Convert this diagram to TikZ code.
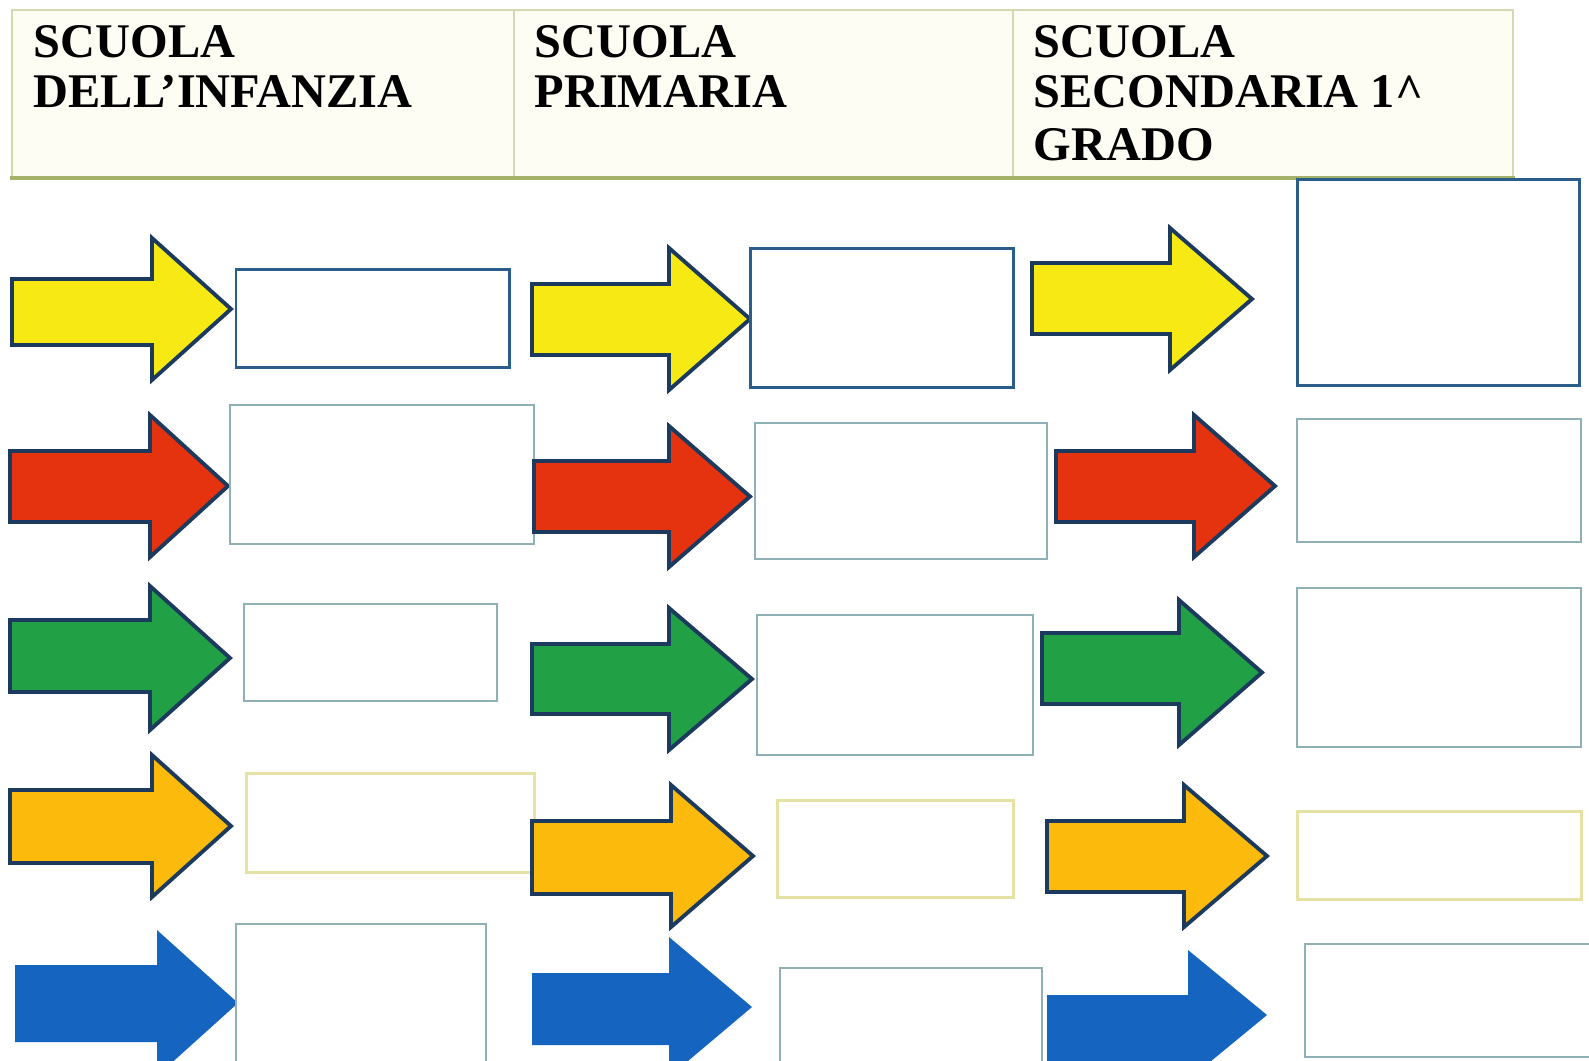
\documentclass[tikz,border=0pt]{standalone}
\usepackage{fontspec}
\setmainfont{Liberation Serif}
\usetikzlibrary{fit}
\definecolor{ayel}{HTML}{F7EA14}
\definecolor{ared}{HTML}{E5320F}
\definecolor{agrn}{HTML}{22A045}
\definecolor{aorg}{HTML}{FBBA0C}
\definecolor{ablu}{HTML}{1565C0}
\definecolor{aedge}{HTML}{1C3A5E}
\definecolor{bdark}{HTML}{2A5D8A}
\definecolor{bteal}{HTML}{8FB0B5}
\definecolor{bpale}{HTML}{E6E2A6}
\definecolor{hdfill}{HTML}{FDFDF4}
\definecolor{hdline}{HTML}{D6D9B0}
\definecolor{hdbot}{HTML}{A3B268}
\newcommand{\fatarrow}[9]{%
  \path[#2] (#3,#6) -- (#4,#6) -- (#4,#8) -- (#5,{(#8+#9)/2}) coordinate (#1) -- (#4,#9) -- (#4,#7) -- (#3,#7) -- cycle;}
\newcommand{\boxat}[6]{%
  \coordinate (#1-nw) at (#3,#4); \coordinate (#1-se) at (#5,#6);
  \node[#2, fit=(#1-nw)(#1-se), inner sep=0pt, outer sep=0pt] (#1) {};}
\begin{document}
\begin{tikzpicture}[x=0.01cm,y=-0.01cm,
  arrowpath/.style={draw=aedge, line width=1.1pt, line join=miter},
  yelarr/.style={arrowpath, fill=ayel},
  redarr/.style={arrowpath, fill=ared},
  grnarr/.style={arrowpath, fill=agrn},
  orgarr/.style={arrowpath, fill=aorg},
  bluarr/.style={fill=ablu},
  boxdark/.style={draw=bdark, line width=0.85pt, fill=white},
  boxteal/.style={draw=bteal, line width=0.6pt, fill=white},
  boxpale/.style={draw=bpale, line width=0.85pt, fill=white},
  hdtext/.style={anchor=base west, inner sep=0pt, font=\fontsize{13.75}{14.2}\selectfont\bfseries, text=black}]
\useasboundingbox (0,0) rectangle (1589,1060);
\clip (0,0) rectangle (1589,1060);
\fill[white] (0,0) rectangle (1589,1060);

% header table
\fill[hdfill] (12,10) rectangle (1513,177);
\draw[hdline, line width=0.5pt] (12,177) -- (12,10) -- (1513,10) -- (1513,177);
\draw[hdline, line width=0.5pt] (514,10) -- (514,177);
\draw[hdline, line width=0.5pt] (1013,10) -- (1013,177);
\draw[hdbot, line width=1.4pt] (10,178) -- (1515,178);

\node[hdtext] (h11) at (33,57) {SCUOLA};
\node[hdtext] (h12) at (33,107) {DELL’INFANZIA};
\node[hdtext] (h21) at (534,57) {SCUOLA};
\node[hdtext] (h22) at (534,107) {PRIMARIA};
\node[hdtext] (h31) at (1033,57) {SCUOLA};
\node[hdtext] (h32) at (1033,107) {SECONDARIA 1\^{}};
\node[hdtext] (h33) at (1033,160) {GRADO};

% row 1 (yellow)
\fatarrow{a11}{yelarr}{12}{152}{231}{279}{345}{238}{380}
\boxat{b11}{boxdark}{236}{269}{509}{367}
\fatarrow{a12}{yelarr}{532}{669}{750}{284}{355}{248}{390}
\boxat{b12}{boxdark}{750}{248}{1013}{387}
\fatarrow{a13}{yelarr}{1032}{1170}{1252}{263}{334}{228}{370}
\boxat{b13}{boxdark}{1297}{179}{1579}{385}

% row 2 (red)
\fatarrow{a21}{redarr}{10}{150}{228}{451}{522}{415}{557}
\boxat{b21}{boxteal}{230}{405}{534}{544}
\fatarrow{a22}{redarr}{534}{669}{750}{461}{532}{426}{567}
\boxat{b22}{boxteal}{755}{423}{1047}{559}
\fatarrow{a23}{redarr}{1056}{1194}{1275}{451}{522}{415}{557}
\boxat{b23}{boxteal}{1297}{419}{1581}{542}

% row 3 (green)
\fatarrow{a31}{grnarr}{10}{150}{230}{620}{692}{586}{730}
\boxat{b31}{boxteal}{244}{604}{497}{701}
\fatarrow{a32}{grnarr}{532}{669}{752}{644}{714}{608}{750}
\boxat{b32}{boxteal}{757}{615}{1033}{755}
\fatarrow{a33}{grnarr}{1042}{1179}{1262}{633}{704}{600}{745}
\boxat{b33}{boxteal}{1297}{588}{1581}{747}

% row 4 (orange)
\fatarrow{a41}{orgarr}{10}{152}{231}{790}{863}{755}{897}
\boxat{b41}{boxpale}{246}{773}{534}{872}
\fatarrow{a42}{orgarr}{532}{671}{753}{821}{894}{785}{927}
\boxat{b42}{boxpale}{777}{800}{1013}{897}
\fatarrow{a43}{orgarr}{1047}{1184}{1267}{821}{892}{785}{927}
\boxat{b43}{boxpale}{1297}{811}{1581}{899}

% row 5 (blue)
\fatarrow{a51}{bluarr}{15}{157}{238}{965}{1042}{930}{1076}
\boxat{b51}{boxteal}{236}{924}{486}{1075}
\fatarrow{a52}{bluarr}{532}{669}{752}{973}{1045}{937}{1077}
\boxat{b52}{boxteal}{780}{968}{1042}{1075}
\fatarrow{a53}{bluarr}{1047}{1188}{1267}{995}{1062}{950}{1080}
\boxat{b53}{boxteal}{1305}{944}{1600}{1057}
\end{tikzpicture}
\end{document}
